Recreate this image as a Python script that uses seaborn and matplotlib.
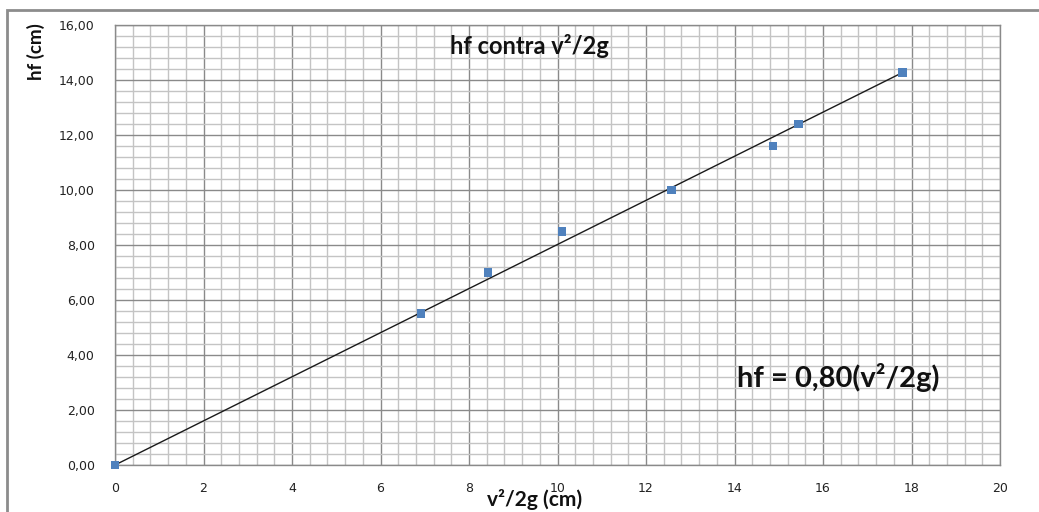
import numpy as np
import pandas as pd
import matplotlib
matplotlib.use("Agg")
import matplotlib.pyplot as plt
from matplotlib.ticker import MultipleLocator, FuncFormatter
from matplotlib.patches import Rectangle
import seaborn as sns

# Data
v2_2g = [0.0, 6.92, 8.43, 10.10, 12.58, 14.87, 15.44, 17.80]
hf = [0.0, 5.5, 7.0, 8.5, 10.0, 11.6, 12.4, 14.27]
title_text = "hf contra v²/2g"
eq_text = "hf = 0,80(v²/2g)"
xlabel_text = "v²/2g (cm)"
ylabel_text = "hf (cm)"

sns.set_style("white")
plt.rcParams['font.family'] = ['Lato', 'DejaVu Sans']

df = pd.DataFrame({"x": v2_2g, "y": hf})
xarr = np.array(v2_2g)
yarr = np.array(hf)
slope = float((xarr * yarr).sum() / (xarr ** 2).sum())
fit = pd.DataFrame({"x": [0.0, xarr.max()], "y": [0.0, slope * xarr.max()]})

fig = plt.figure(figsize=(10.39, 5.12), dpi=100)
ax = fig.add_axes([115 / 1039, 1 - 465 / 512, 885 / 1039, 440 / 512])

# outer chart frame (top and left visible)
fig.patches.append(Rectangle((7 / 1039, -0.05), 1.2, 1 - 10 / 512 + 0.05,
                             transform=fig.transFigure, fill=False,
                             edgecolor="#8c8c8c", linewidth=2.0, zorder=0))

sns.lineplot(data=fit, x="x", y="y", ax=ax, color="#1a1a1a", linewidth=1.0, zorder=3)
sns.scatterplot(data=df, x="x", y="y", ax=ax, marker="s", s=38, color="#4f81bd",
                edgecolor="none", zorder=4, clip_on=False)

ax.set_xlim(0, 20)
ax.set_ylim(0, 16)
ax.xaxis.set_major_locator(MultipleLocator(2))
ax.xaxis.set_minor_locator(MultipleLocator(0.4))
ax.yaxis.set_major_locator(MultipleLocator(2))
ax.yaxis.set_minor_locator(MultipleLocator(0.4))
ax.yaxis.set_major_formatter(FuncFormatter(lambda v, p: f"{v:.2f}".replace(".", ",")))
ax.xaxis.set_major_formatter(FuncFormatter(lambda v, p: f"{int(round(v))}"))

ax.grid(which="major", color="#8a8a8a", linewidth=1.0, zorder=1)
ax.grid(which="minor", color="#c4c4c4", linewidth=1.0, zorder=1)
ax.set_axisbelow(True)
for sp in ax.spines.values():
    sp.set_color("#8a8a8a")
    sp.set_linewidth(1.0)

ax.tick_params(axis="both", which="major", direction="out", length=3.6, width=1,
               color="#8a8a8a", labelsize=9, labelcolor="#222222")
ax.tick_params(axis="x", which="major", pad=9)
ax.tick_params(axis="y", which="major", pad=11)
ax.tick_params(which="minor", length=0)
for lab in ax.get_xticklabels() + ax.get_yticklabels():
    lab.set_family(['DejaVu Sans'])

ax.set_xlabel("")
ax.set_ylabel("")
fig.text(535 / 1039, 1 - 499 / 512, xlabel_text, ha="center", va="center",
         fontsize=15, fontweight="bold", color="#111111")
fig.text(36 / 1039, 1 - 52 / 512, ylabel_text, ha="center", va="center",
         rotation=90, fontsize=13.5, fontweight="bold", color="#111111")
fig.text(529 / 1039, 1 - 46 / 512, title_text, ha="center", va="center",
         fontsize=17, fontweight="bold", color="#111111")
fig.text(838 / 1039, 1 - 377 / 512, eq_text, ha="center", va="center",
         fontsize=21, fontweight="bold", color="#111111")

fig.savefig("out.png", dpi=100)
